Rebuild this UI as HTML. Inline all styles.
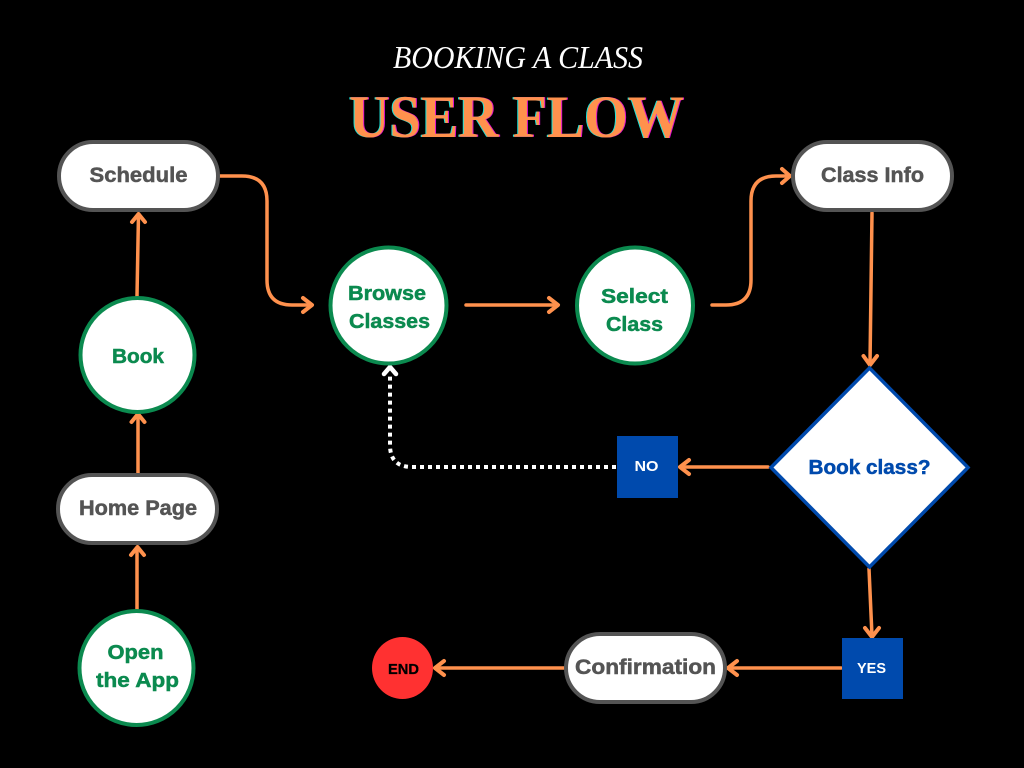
<!DOCTYPE html>
<html>
<head>
<meta charset="utf-8">
<style>
html,body{margin:0;padding:0;background:#000;width:1024px;height:768px;overflow:hidden}
svg{display:block}
text{font-family:"Liberation Sans",sans-serif;font-weight:700;text-anchor:middle}
.g{fill:#545454;stroke:#545454;stroke-width:.5;font-size:21px}
.n{fill:#0b8a4f;stroke:#0b8a4f;stroke-width:.5;font-size:20.5px}
.l{fill:none;stroke:#ff914d;stroke-width:3.5;stroke-linecap:round;stroke-linejoin:round}
.h{fill:none;stroke:#ff914d;stroke-width:4;stroke-linecap:round;stroke-linejoin:round}
.p{fill:#fff;stroke:#545454;stroke-width:4}
.c{fill:#fff;stroke:#0b8a4f;stroke-width:4}
.t{font-family:"Liberation Serif",serif;font-size:60px}
</style>
</head>
<body>
<svg width="1024" height="768" viewBox="0 0 1024 768" xmlns="http://www.w3.org/2000/svg">
<rect width="1024" height="768" fill="#000"/>

<text x="518" y="68" textLength="250" lengthAdjust="spacingAndGlyphs" style="font-family:'Liberation Serif',serif;font-weight:400;font-style:italic;font-size:32px;fill:#fff">BOOKING A CLASS</text>
<text class="t" x="515.500" y="137" textLength="335" lengthAdjust="spacingAndGlyphs" fill="#19e6dc">USER FLOW</text>
<text class="t" x="517.500" y="137" textLength="335" lengthAdjust="spacingAndGlyphs" fill="#e010d0">USER FLOW</text>
<text class="t" x="516.500" y="137" textLength="335" lengthAdjust="spacingAndGlyphs" fill="#ff914d">USER FLOW</text>

<!-- connectors -->
<path class="l" d="M137 609V548"/><path class="h" d="M131 555L137.500 547L144 555"/>
<path class="l" d="M138 474V415"/><path class="h" d="M131.500 422L138 414L144.500 422"/>
<path class="l" d="M137 296L138.500 214"/><path class="h" d="M132 222L138.500 214L145 222"/>
<path class="l" d="M220 176H242Q267 176 267 201V280Q267 305 292 305H312"/><path class="h" d="M303 298L312 305L303 312"/>
<path class="l" d="M466 305H557"/><path class="h" d="M549 298L558 305L549 312"/>
<path class="l" d="M712 305H726Q751 305 751 280V201Q751 176 776 176H790"/><path class="h" d="M782 169L790 176L782 183"/>
<path class="l" d="M872 213L870 364"/><path class="h" d="M863.500 356L870 365L877 356"/>
<path class="l" d="M768 467H681"/><path class="h" d="M689 460L680 467L689 474"/>
<path class="l" d="M869 569L872 636"/><path class="h" d="M865 628L872 637L879 628"/>
<path class="l" d="M841 668H728"/><path class="h" d="M737 661L728 668L737 675"/>
<path class="l" d="M564 668H435"/><path class="h" d="M444 661L435 668L444 675"/>

<!-- dotted return -->
<path d="M616 467H412Q390 467 390 445V376" fill="none" stroke="#fff" stroke-width="4" stroke-dasharray="4 4"/>
<path d="M384 374L390 367L396 374" fill="none" stroke="#fff" stroke-width="4.500" stroke-linecap="round" stroke-linejoin="round"/>

<!-- pills -->
<rect class="p" x="59" y="142" width="159" height="68" rx="34"/>
<text class="g" x="138.500" y="182" textLength="98" lengthAdjust="spacingAndGlyphs">Schedule</text>
<rect class="p" x="58" y="475" width="159" height="68" rx="34"/>
<text class="g" x="138" y="515" textLength="118" lengthAdjust="spacingAndGlyphs">Home Page</text>
<rect class="p" x="793" y="142" width="159" height="68" rx="34"/>
<text class="g" x="872.500" y="182" textLength="103" lengthAdjust="spacingAndGlyphs">Class Info</text>
<rect class="p" x="566" y="634" width="159" height="68" rx="34"/>
<text class="g" x="645.500" y="674" textLength="141" lengthAdjust="spacingAndGlyphs">Confirmation</text>

<!-- circles -->
<circle class="c" cx="137.500" cy="355" r="57"/>
<text class="n" x="138" y="363" textLength="52" lengthAdjust="spacingAndGlyphs">Book</text>
<circle class="c" cx="136.500" cy="668" r="57"/>
<text class="n" x="135.500" y="659" textLength="56" lengthAdjust="spacingAndGlyphs">Open</text>
<text class="n" x="137.500" y="687" textLength="83" lengthAdjust="spacingAndGlyphs">the App</text>
<circle class="c" cx="388.500" cy="305.500" r="58"/>
<text class="n" x="387" y="300" textLength="78" lengthAdjust="spacingAndGlyphs">Browse</text>
<text class="n" x="389.500" y="328" textLength="81" lengthAdjust="spacingAndGlyphs">Classes</text>
<circle class="c" cx="635" cy="305.500" r="58"/>
<text class="n" x="634.500" y="303" textLength="67" lengthAdjust="spacingAndGlyphs">Select</text>
<text class="n" x="634.500" y="331" textLength="57" lengthAdjust="spacingAndGlyphs">Class</text>

<!-- diamond -->
<polygon points="869.500,368 968,467.500 869.500,567 771,467.500" fill="#fff" stroke="#004aad" stroke-width="3.500"/>
<text x="869.500" y="474" textLength="122" lengthAdjust="spacingAndGlyphs" style="fill:#004aad;stroke:#004aad;stroke-width:.5;font-size:20px">Book class?</text>

<!-- squares -->
<rect x="617" y="436" width="61" height="62" fill="#004aad"/>
<text x="646.500" y="471" textLength="24" lengthAdjust="spacingAndGlyphs" style="fill:#fff;font-size:15px">NO</text>
<rect x="842" y="638" width="61" height="61" fill="#004aad"/>
<text x="871.500" y="673" textLength="29" lengthAdjust="spacingAndGlyphs" style="fill:#fff;font-size:15px">YES</text>

<!-- end -->
<ellipse cx="402.500" cy="668" rx="30.500" ry="31" fill="#ff3131"/>
<text x="403.500" y="674" textLength="31" lengthAdjust="spacingAndGlyphs" style="fill:#000;stroke:#000;stroke-width:.3;font-size:15px">END</text>
</svg>
</body>
</html>
